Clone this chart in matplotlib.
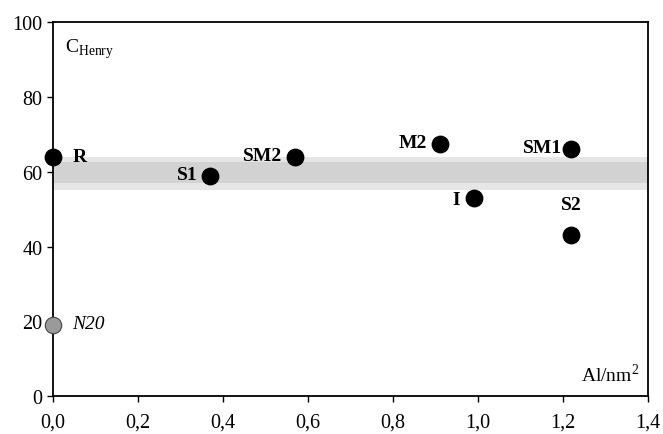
import matplotlib.pyplot as plt
import numpy as np

plt.rcParams['font.family'] = ['Liberation Serif', 'DejaVu Serif']

# data
names = ['R', 'S1', 'SM2', 'M2', 'I', 'SM1', 'S2']
al_nm2 = [0.0, 0.37, 0.57, 0.91, 0.99, 1.22, 1.22]
c_henry = [64, 58.8, 63.9, 67.4, 53, 66.2, 43]
n20_x, n20_y = 0.0, 19
band_lo, band_hi = 55, 64
band_core = (57, 62.5)
xticks = [0.0, 0.2, 0.4, 0.6, 0.8, 1.0, 1.2, 1.4]
yticks = [0, 20, 40, 60, 80, 100]

# label offsets (points)
offsets = {'R': (14, 0, 'left'), 'S1': (-9, 1, 'right'), 'SM2': (-9, 1, 'right'),
           'M2': (-9, 1, 'right'), 'I': (-10, -1, 'right'), 'SM1': (-7, 1, 'right'),
           'S2': (0, 22, 'center')}

fig = plt.figure(figsize=(6.63, 4.35), dpi=100)
ax = fig.add_axes([0.080, 0.087, 0.897, 0.860])

ax.fill_between([0, 1.4], band_lo, band_hi, color='#e6e6e6', lw=0, zorder=0)
ax.fill_between([0, 1.4], *band_core, color='#d2d2d2', lw=0, zorder=0)

ax.scatter(al_nm2, c_henry, s=140, color='black', zorder=3, clip_on=False)
ax.scatter([n20_x], [n20_y], s=140, color='#9a9a9a', edgecolor='#444444',
           lw=0.8, zorder=3, clip_on=False)

for n, x, y in zip(names, al_nm2, c_henry):
    dx, dy, ha = offsets[n]
    ax.annotate(n, (x, y), xytext=(dx, dy), textcoords='offset points',
                ha=ha, va='center', fontsize=14, fontweight='bold')
ax.annotate('N20', (n20_x, n20_y), xytext=(14, 1), textcoords='offset points',
            ha='left', va='center', fontsize=14, style='italic')

ax.text(0.02, 0.93, r'C$_{\mathregular{Henry}}$', transform=ax.transAxes,
        fontsize=14, ha='left', va='center')
ax.text(0.985, 0.06, r'Al/nm$^{\mathregular{2}}$', transform=ax.transAxes,
        fontsize=14, ha='right', va='center')

ax.set_xlim(0, 1.4)
ax.set_ylim(0, 100)
ax.set_xticks(xticks)
ax.set_xticklabels([f'{v:.1f}'.replace('.', ',') for v in xticks])
ax.set_yticks(yticks)
ax.tick_params(labelsize=14.5, length=4, width=1, direction='out')
ax.tick_params(axis='x', pad=8)
for s in ax.spines.values():
    s.set_linewidth(1.3)

fig.savefig('out.png', dpi=100)
